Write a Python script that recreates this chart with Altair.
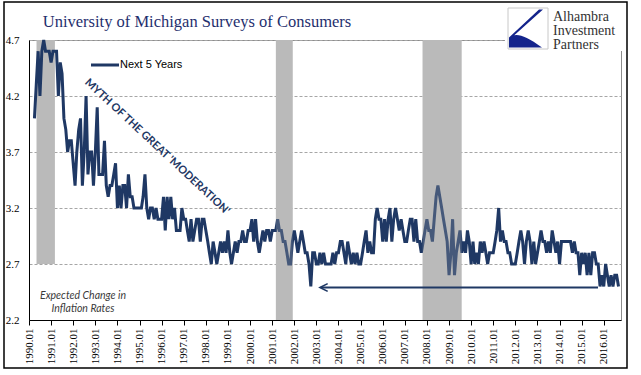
import altair as alt
import pandas as pd

# ---------------- data ----------------
start_month = "1990-04-01"
values = [
    4.0, 4.3, 4.6, 4.2, 4.6, 4.7, 4.6, 4.6, 4.6, 4.5, 4.6, 4.6, 4.6, 4.2, 4.5, 4.4,
    4.0, 3.9, 3.7, 3.8, 3.8, 3.6, 3.4, 3.7, 3.9, 4.0, 3.4, 3.7, 4.2, 3.5, 3.7, 3.7,
    3.4, 3.7, 4.1, 3.5, 3.5, 3.5, 3.8, 3.4, 3.3, 3.4, 3.4, 3.5, 3.6, 3.2, 3.4, 3.2,
    3.4, 3.4, 3.2, 3.5, 3.3, 3.3, 3.2, 3.2, 3.2, 3.2, 3.2, 3.3, 3.5, 3.2, 3.1, 3.2,
    3.2, 3.1, 3.2, 3.1, 3.1, 3.1, 3.3, 3.0, 3.3, 3.1, 3.3, 3.1, 3.2, 3.0, 3.0, 3.0,
    3.2, 3.1, 3.1, 3.0, 2.9, 3.1, 2.9, 3.0, 3.1, 3.1, 2.9, 3.1, 3.1, 3.0, 2.9, 2.8,
    2.7, 2.9, 2.8, 2.7, 2.8, 2.9, 2.8, 2.9, 2.8, 3.0, 2.8, 2.7, 2.8, 2.9, 2.8, 2.9,
    2.9, 3.0, 2.9, 2.9, 3.0, 3.0, 3.1, 2.9, 3.1, 2.9, 2.8, 2.9, 3.0, 2.9, 3.0, 3.0,
    2.9, 3.0, 3.0, 3.0, 3.1, 3.0, 3.0, 2.9, 2.9, 2.8, 2.7, 2.7, 2.9, 3.0, 2.9, 2.8,
    2.9, 3.0, 2.9, 2.8, 2.8, 2.7, 2.5, 2.8, 2.8, 2.7, 2.7, 2.8, 2.7, 2.8, 2.7, 2.7,
    2.7, 2.7, 2.8, 2.7, 2.8, 2.8, 2.9, 2.9, 2.8, 2.7, 2.9, 2.8, 2.7, 2.8, 2.7, 2.8,
    2.7, 2.7, 2.8, 2.9, 3.0, 2.8, 2.9, 2.8, 2.8, 3.1, 3.2, 3.1, 3.1, 2.9, 3.1, 2.9,
    3.1, 3.2, 2.9, 3.1, 3.2, 3.1, 3.0, 3.1, 3.0, 2.9, 2.9, 3.0, 3.1, 3.1, 2.9, 3.1,
    2.9, 2.9, 2.8, 2.9, 3.0, 3.1, 3.0, 3.0, 2.9, 3.1, 3.3, 3.4, 3.3, 3.2, 3.1, 3.0,
    2.9, 2.6, 2.8, 3.1, 2.6, 2.8, 2.9, 3.0, 2.8, 2.9, 2.8, 3.0, 2.9, 2.7, 2.9, 2.7,
    2.8, 2.7, 2.9, 2.8, 2.9, 2.8, 2.7, 2.8, 2.8, 2.8, 2.9, 3.0, 3.2, 2.9, 3.0, 2.9,
    2.9, 2.8, 2.8, 2.7, 2.7, 2.7, 2.8, 2.9, 3.0, 2.9, 2.7, 2.9, 3.0, 2.9, 2.7, 2.9,
    2.7, 2.8, 2.9, 3.0, 2.9, 2.9, 2.8, 2.9, 2.8, 3.0, 2.9, 2.8, 2.9, 2.7, 2.9, 2.9,
    2.9, 2.9, 2.9, 2.9, 2.8, 2.9, 2.8, 2.8, 2.6, 2.8, 2.7, 2.8, 2.6, 2.8, 2.6, 2.8,
    2.8, 2.7, 2.7, 2.5, 2.6, 2.5, 2.7, 2.6, 2.5, 2.6, 2.5, 2.6, 2.6, 2.5,
]
dates = pd.date_range(start_month, periods=len(values), freq="MS").strftime("%Y-%m-%d").tolist()

band_start = ["1990-05-05", "2001-03-03", "2007-10-22"]
band_end = ["1991-03-05", "2001-12-06", "2009-07-28"]
band_low = [2.7, 2.2, 2.2]
band_high = [4.7, 4.7, 4.7]

arrow_tip = "2003-03-15"
arrow_tail = "2015-09-28"
arrow_level = 2.49

tick_years = list(range(1990, 2017))
y_ticks = [2.2, 2.7, 3.2, 3.7, 4.2, 4.7]

title_text = "University of Michigan Surveys of Consumers"
legend_text = "Next 5 Years"
myth_text = "MYTH OF THE GREAT 'MODERATION'"
note_lines = ["Expected Change in", "Inflation Rates"]
logo_lines = ["Alhambra", "Investment", "Partners"]

NAVY = "#1f3864"
GRAY_BAND = "#bababa"

# ---------------- chart ----------------
series = pd.DataFrame({"date": dates, "value": values})
bands = pd.DataFrame({"start": band_start, "end": band_end, "low": band_low, "high": band_high})

x_scale = alt.Scale(
    type="utc",
    domain=[alt.DateTime(year=1990, month=1, date=1, utc=True),
            alt.DateTime(year=2016, month=10, date=12, utc=True)],
    nice=False,
)
y_scale = alt.Scale(domain=[2.2, 4.7], nice=False, zero=False)

x_axis = alt.Axis(
    values=[alt.DateTime(year=yy, month=1, date=1, utc=True) for yy in tick_years],
    labelExpr="utcFormat(datum.value, '%Y.%m')",
    labelAngle=270, labelFont="Liberation Serif", labelFontSize=11, labelColor="#000000",
    labelPadding=3, tickSize=5, tickColor="#000000", domainColor="#000000",
    grid=False, title=None, labelOverlap=False, labelBound=False,
)
y_axis = alt.Axis(
    values=y_ticks, format=".1f", labelFont="Liberation Serif", labelFontSize=11,
    labelColor="#000000", tickSize=0, labelPadding=10, domainColor="#000000",
    grid=True, gridColor="#a6a6a6", gridDash=[3, 2], gridWidth=1, title=None,
)


def X(field):
    return alt.X(field, scale=x_scale, axis=x_axis)


def Y(field):
    return alt.Y(field, scale=y_scale, axis=y_axis)


band_base = alt.Chart(bands).mark_rect(color=GRAY_BAND).encode(
    x=X("start:T"), x2="end:T", y=Y("low:Q"), y2="high:Q",
)

line = alt.Chart(series).mark_line(color=NAVY, strokeWidth=3).encode(
    x=X("date:T"), y=Y("value:Q"),
)

band_over = alt.Chart(bands).transform_filter("datum.low < 2.5").mark_rect(
    color=GRAY_BAND, opacity=0.25
).encode(x=X("start:T"), x2="end:T", y=Y("low:Q"), y2="high:Q")

arrow_df = pd.DataFrame({"tip": [arrow_tip], "tail": [arrow_tail], "level": [arrow_level]})
arrow_line = alt.Chart(arrow_df).mark_rule(color=NAVY, strokeWidth=2).encode(
    x=X("tip:T"), x2="tail:T", y=Y("level:Q")
)
arrow_head = alt.Chart(arrow_df).mark_point(
    shape="M1,-1L-1,0L1,1", size=60, filled=False, color=NAVY, strokeWidth=1.6, opacity=1
).encode(x=X("tip:T"), y=Y("level:Q"), xOffset=alt.value(3))

# legend
legend_line = alt.Chart(pd.DataFrame({"a": [0]})).mark_rule(color=NAVY, strokeWidth=3).encode(
    x=alt.value(62), x2=alt.value(90), y=alt.value(25)
)
legend_label = alt.Chart(pd.DataFrame({"t": [legend_text]})).mark_text(
    align="left", baseline="middle", font="Liberation Sans", fontSize=11, color="#000000"
).encode(x=alt.value(91), y=alt.value(25), text="t:N")

myth = alt.Chart(pd.DataFrame({"t": [myth_text]})).mark_text(
    align="center", baseline="middle", font="Lato", fontSize=11, fontWeight="bold",
    color=NAVY, angle=43,
).encode(x=alt.value(128), y=alt.value(107), text="t:N")

note = alt.Chart(pd.DataFrame({"t": note_lines, "yy": [256, 269]})).mark_text(
    align="center", baseline="middle", font="Lato", fontSize=10.5, fontStyle="italic",
    color="#3a3a3a",
).encode(x=alt.value(54), y=alt.Y("yy:Q", scale=None), text="t:N")

title = alt.Chart(pd.DataFrame({"t": [title_text]})).mark_text(
    align="center", baseline="middle", font="Liberation Serif", fontSize=16.5, color="#1f2f6e",
).encode(x=alt.value(168), y=alt.value(-18), text="t:N")

# logo: white patch hides the plot frame, then box, swoosh and name
logo_patch = alt.Chart(pd.DataFrame({"a": [0]})).mark_rect(color="#ffffff").encode(
    x=alt.value(476), x2=alt.value(596), y=alt.value(-37), y2=alt.value(11)
)
logo_box = alt.Chart(pd.DataFrame({"a": [0]})).mark_rect(
    fill="#ffffff", stroke="#c8c8c8", strokeWidth=1
).encode(x=alt.value(479), x2=alt.value(519), y=alt.value(-32), y2=alt.value(9))
logo_swoosh = alt.Chart(pd.DataFrame({"a": [0]})).mark_point(
    shape="M-0.95,0.95 L-0.95,0.45 C-0.6,0.2 -0.2,0.3 0.7,0.95 Z M-0.95,0.45 L0.55,-0.95 L0.75,-0.95 L-0.7,0.35 Z",
    size=1600, filled=True, color="#14248c", opacity=1, strokeWidth=0,
).encode(x=alt.value(499), y=alt.value(-11.5))
logo_text = alt.Chart(pd.DataFrame({"t": logo_lines, "yy": [-23.5, -9.5, 4.5]})).mark_text(
    align="left", baseline="middle", font="Liberation Serif", fontSize=14, color="#333333",
).encode(x=alt.value(524), y=alt.Y("yy:Q", scale=None), text="t:N")

frame = alt.Chart(pd.DataFrame({"a": [0]})).mark_rect(
    fill=None, stroke="#000000", strokeWidth=1.5
).encode(x=alt.value(-25), x2=alt.value(598), y=alt.value(-38), y2=alt.value(328))

chart = alt.layer(
    band_base.transform_filter("datum.low > 2.5"), band_base.transform_filter("datum.low < 2.5"),
    line, band_over, arrow_line, arrow_head,
    legend_line, legend_label, myth, note, title,
    logo_patch, logo_box, logo_swoosh, logo_text, frame,
).properties(
    width=592, height=280,
    autosize=alt.AutoSizeParams(type="none"),
    padding={"left": 29, "top": 40, "right": 20, "bottom": 55},
    background="#ffffff",
).configure_view(stroke="#8c8c8c", strokeWidth=1).configure_axisX(labelOverlap=False)

chart.save("out.html", embed_options={"renderer": "svg", "actions": False})
